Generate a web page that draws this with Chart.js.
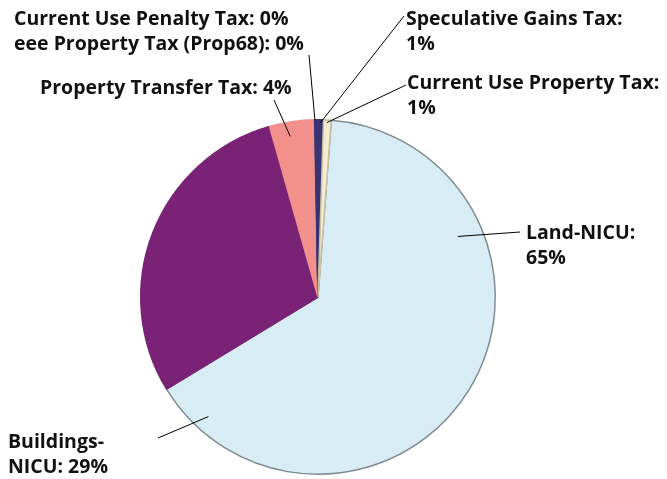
<!DOCTYPE html>
<html>
<head>
<meta charset="utf-8">
<script src="https://cdn.jsdelivr.net/npm/chart.js@4/dist/chart.umd.min.js"></script>
<style>
html,body{margin:0;padding:0;background:#fff;}
#wrap{width:667px;height:479px;position:relative;}
</style>
</head>
<body>
<div id="wrap"><canvas id="c" width="667" height="479"></canvas></div>
<script>
// Data (clockwise from the start angle)
const categories = ['Land-NICU', 'Buildings-NICU', 'Property Transfer Tax', 'Current Use Penalty Tax', 'eee Property Tax (Prop68)', 'Speculative Gains Tax', 'Current Use Property Tax'];
const values = [65.1, 29.3, 4.1, 0.04, 0.04, 0.72, 0.7];
const pctLabels = ['65%', '29%', '4%', '0%', '0%', '1%', '1%'];
const colors = ['#d8ecf5', '#7a2276', '#f2908c', '#4a3b7a', '#3b3473', '#3b3473', '#f3ecd2'];
const borders = ['#7f8b90', '#7a2276', '#f2908c', '#4a3b7a', '#3b3473', '#3b3473', '#c9c0a0'];

// Label annotations: text lines, anchor (left x, middle y of first line), leader line outer end,
// leader inner end given as angle (deg clockwise from top) and fraction of radius
const annotations = [
  {lines: ['Land-NICU:', '65%'], x: 526, y: 233, lx: 520, ly: 232, ang: 66.6, frac: 0.86},
  {lines: ['Buildings-', 'NICU: 29%'], x: 8, y: 442, lx: 158, ly: 438, ang: 222.5, frac: 0.915},
  {lines: ['Property Transfer Tax: 4%'], x: 40, y: 88, lx: 274, ly: 100, ang: -9.8, frac: 0.92},
  {lines: ['Current Use Penalty Tax: 0%'], x: 14, y: 19, lx: null},
  {lines: ['eee Property Tax (Prop68): 0%'], x: 14, y: 44, lx: 309, ly: 55, ang: -1.0, frac: 1.0},
  {lines: ['Speculative Gains Tax:', '1%'], x: 406, y: 19, lx: 404, ly: 16, ang: 0.65, frac: 0.98},
  {lines: ['Current Use Property Tax:', '1%'], x: 407, y: 83, lx: 406, ly: 85, ang: 2.9, frac: 0.985}
];

const FONT = 'bold 19.5px "Open Sans", sans-serif';
const LINE_H = 25;

const labelPlugin = {
  id: 'labels',
  afterDraw(chart) {
    const ctx = chart.ctx;
    const arc = chart.getDatasetMeta(0).data[0];
    const cx = arc.x, cy = arc.y, r = arc.outerRadius;
    ctx.save();
    ctx.strokeStyle = '#000';
    ctx.lineWidth = 1;
    annotations.forEach(a => {
      if (a.lx !== null) {
        const t = a.ang * Math.PI / 180;
        const ix = cx + r * a.frac * Math.sin(t);
        const iy = cy - r * a.frac * Math.cos(t);
        ctx.beginPath();
        ctx.moveTo(a.lx, a.ly);
        ctx.lineTo(ix, iy);
        ctx.stroke();
      }
    });
    ctx.fillStyle = '#111';
    ctx.font = FONT;
    ctx.textAlign = 'left';
    ctx.textBaseline = 'middle';
    annotations.forEach(a => {
      a.lines.forEach((s, i) => ctx.fillText(s, a.x, a.y + i * LINE_H));
    });
    ctx.restore();
  }
};

new Chart(document.getElementById('c'), {
  type: 'pie',
  data: {
    labels: categories.map((c, i) => c + ': ' + pctLabels[i]),
    datasets: [{
      data: values,
      backgroundColor: colors,
      borderColor: borders,
      borderWidth: 1.5
    }]
  },
  options: {
    responsive: false,
    animation: false,
    rotation: 4.3,
    layout: {padding: {top: 119, bottom: 4, left: 140, right: 171}},
    plugins: {legend: {display: false}, tooltip: {enabled: false}}
  },
  plugins: [labelPlugin]
});
</script>
</body>
</html>
